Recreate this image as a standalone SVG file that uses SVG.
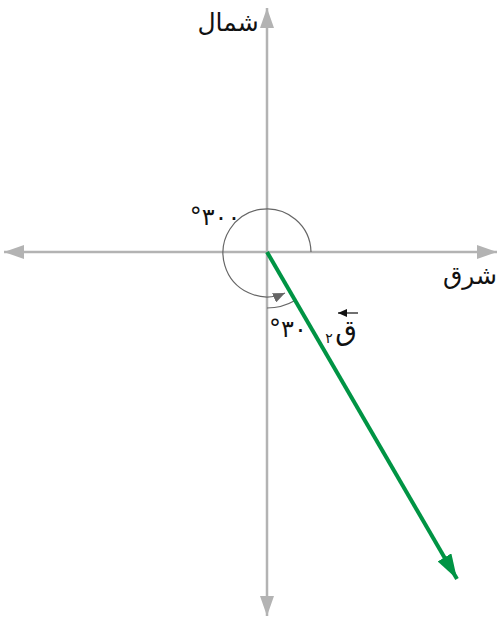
<svg xmlns="http://www.w3.org/2000/svg" width="499" height="619" viewBox="0 0 499 619">
<style>
.axis{stroke:#b3b3b3;stroke-width:2.5;fill:none}
.arc{stroke:#666;stroke-width:1.2;fill:none}
.lbl{font-family:"DejaVu Sans",sans-serif;fill:#111;text-anchor:middle}
</style>
<defs>
<marker id="ga" markerUnits="userSpaceOnUse" markerWidth="22" markerHeight="14" refX="20" refY="7" orient="auto"><path d="M0,0 L20,7 L0,14 Z" fill="#b3b3b3"/></marker>
<marker id="gr" markerUnits="userSpaceOnUse" markerWidth="26" markerHeight="16" refX="25" refY="8" orient="auto"><path d="M0,0 L25,8 L0,16 Z" fill="#009444"/></marker>
<marker id="sa" markerUnits="userSpaceOnUse" markerWidth="14" markerHeight="10" refX="12" refY="5" orient="auto"><path d="M0,0 L12,5 L0,10 Z" fill="#666"/></marker>
<marker id="ka" markerUnits="userSpaceOnUse" markerWidth="10" markerHeight="8" refX="0" refY="4" orient="auto"><path d="M9,0 L0,4 L9,8 Z" fill="#111"/></marker>
</defs>
<g id="connectors">
<line class="axis" x1="267" y1="252" x2="267" y2="8" marker-end="url(#ga)"/>
<line class="axis" x1="267" y1="252" x2="267" y2="616" marker-end="url(#ga)"/>
<line class="axis" x1="267" y1="252" x2="4" y2="252" marker-end="url(#ga)"/>
<line class="axis" x1="267" y1="252" x2="497" y2="252" marker-end="url(#ga)"/>
<path class="arc" d="M311,252 A44,44 0 1 0 285,293" marker-end="url(#sa)"/>
<path class="arc" d="M267,308 A56,56 0 0 0 295,300.5"/>
<line x1="267" y1="252" x2="457" y2="579" stroke="#009444" stroke-width="4" marker-end="url(#gr)"/>
</g>
<g id="north"><text class="lbl" x="228" y="31" font-size="25">شمال</text></g>
<g id="east"><text class="lbl" x="470" y="284" font-size="25">شرق</text></g>
<g id="angle300"><text class="lbl" x="215" y="225" font-size="24" direction="ltr" unicode-bidi="bidi-override">°٣٠٠</text></g>
<g id="angle30"><text class="lbl" x="288" y="337" font-size="24" direction="ltr" unicode-bidi="bidi-override">°٣٠</text></g>
<g id="vector">
<text class="lbl" x="346" y="340" font-size="28">ق</text>
<text class="lbl" x="329" y="343" font-size="14">٢</text>
<line x1="338" y1="313" x2="358" y2="313" stroke="#111" stroke-width="1.2" marker-start="url(#ka)"/>
</g>
</svg>
